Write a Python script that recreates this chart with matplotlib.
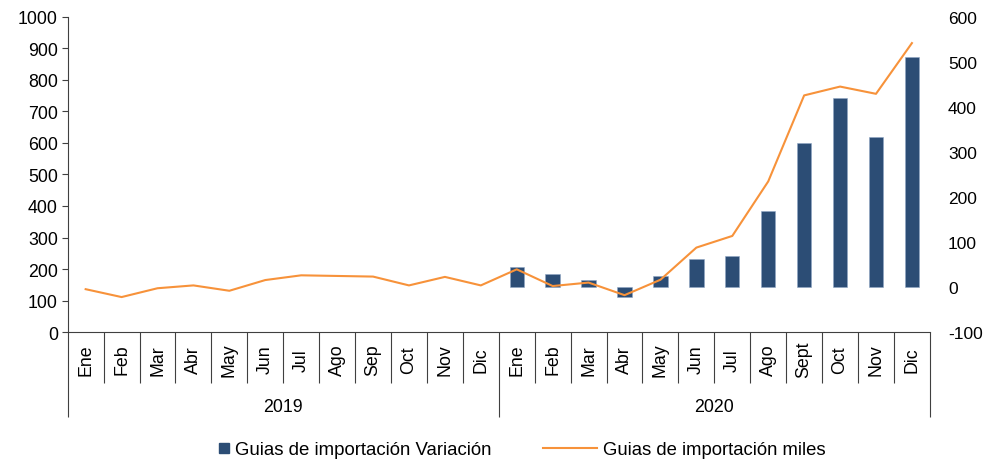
import matplotlib
matplotlib.use("Agg")
import matplotlib.pyplot as plt
from matplotlib.lines import Line2D
import matplotlib.transforms as mtransforms

plt.rcParams['font.family'] = ['Liberation Sans', 'DejaVu Sans']
plt.rcParams['axes.unicode_minus'] = False

# datos
meses_2019 = ['Ene', 'Feb', 'Mar', 'Abr', 'May', 'Jun', 'Jul', 'Ago', 'Sep', 'Oct', 'Nov', 'Dic']
meses_2020 = ['Ene', 'Feb', 'Mar', 'Abr', 'May', 'Jun', 'Jul', 'Ago', 'Sept', 'Oct', 'Nov', 'Dic']
anios = ['2019', '2020']
guias_miles = [136, 111, 139, 148, 131, 165, 180, 178, 176, 148, 175, 148,
               199, 146, 157, 117, 166, 268, 305, 478, 751, 779, 756, 917]
guias_variacion_2020 = [45, 30, 15, -22, 25, 62, 68, 168, 321, 420, 333, 511]

etiquetas = meses_2019 + meses_2020
x = list(range(len(etiquetas)))
x_2020 = x[len(meses_2019):]

color_barra = '#2C4D75'
color_linea = '#F7923A'
color_eje = '#404040'

fig = plt.figure(figsize=(9.84, 4.6), dpi=100)
ax = fig.add_axes([0.0688, 0.276, 0.8762, 0.685])
ax2 = ax.twinx()

# barras (eje derecho)
ax2.bar(x_2020, guias_variacion_2020, width=0.4, color=color_barra,
        edgecolor='#8FA6C4', linewidth=0.4)
ax2.set_ylim(-100, 600)
ax2.set_yticks(range(-100, 601, 100))
ax2.tick_params(axis='y', length=0, pad=13, labelsize=12.5)
for s in ax2.spines.values():
    s.set_visible(False)

# linea (eje izquierdo)
ax.plot(x, guias_miles, color=color_linea, linewidth=1.5)
ax.set_ylim(0, 1000)
ax.set_yticks(range(0, 1001, 100))
ax.tick_params(axis='y', length=4, width=0.8, color=color_eje, pad=3, labelsize=12.8)
ax.set_zorder(ax2.get_zorder() + 1)
ax.patch.set_visible(False)
for s in ['top', 'right']:
    ax.spines[s].set_visible(False)
ax.spines['left'].set_color(color_eje)
ax.spines['bottom'].set_color(color_eje)
ax.spines['left'].set_linewidth(0.8)
ax.spines['bottom'].set_linewidth(0.8)

# eje x de dos niveles
n = len(etiquetas)
ax.set_xlim(-0.5, n - 0.5)
limites = [i - 0.5 for i in range(n + 1)]
largos = [0, len(meses_2019), n]
ax.set_xticks([limites[i] for i in largos])
ax.set_xticks([b for i, b in enumerate(limites) if i not in largos], minor=True)
ax.set_xticklabels([])
ax.tick_params(axis='x', which='major', direction='out', length=61, width=0.8, color=color_eje)
ax.tick_params(axis='x', which='minor', direction='out', length=37, width=0.8, color=color_eje)

trans = mtransforms.blended_transform_factory(ax.transData, ax.transAxes)
for i, lab in enumerate(etiquetas):
    ax.text(i, -0.086, lab, rotation=90, ha='center', va='center',
            fontsize=12.8, transform=trans)
centros = [(len(meses_2019) - 1) / 2, len(meses_2019) + (len(meses_2020) - 1) / 2]
for c, a in zip(centros, anios):
    ax.text(c, -0.235, a, ha='center', va='center', fontsize=12.8, transform=trans)

# leyenda
h1 = Line2D([], [], marker='s', linestyle='none', markersize=6.5, color=color_barra)
h2 = Line2D([], [], color=color_linea, linewidth=1.5)
fig.legend([h1], ['Guias de importación Variación'], loc='center left',
           bbox_to_anchor=(0.224, 0.02), frameon=False, fontsize=13.4,
           handlelength=0.4, handletextpad=0.4, borderpad=0, borderaxespad=0)
fig.legend([h2], ['Guias de importación miles'], loc='center left',
           bbox_to_anchor=(0.552, 0.02), frameon=False, fontsize=13.3,
           handlelength=2.9, handletextpad=0.35, borderpad=0, borderaxespad=0)

fig.savefig('out.png', dpi=100)
